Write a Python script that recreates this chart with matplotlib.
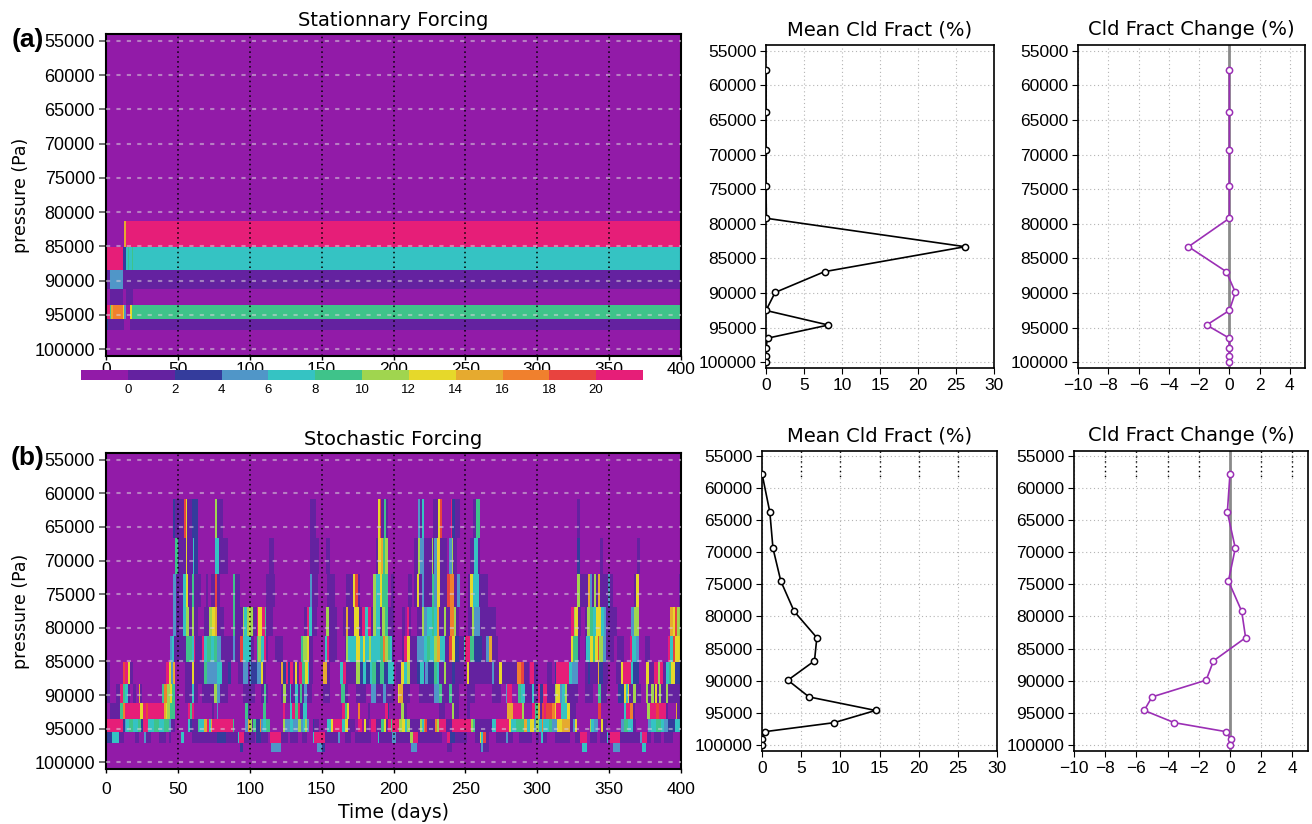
import numpy as np
import matplotlib
matplotlib.use("Agg")
import matplotlib.pyplot as plt
from matplotlib.colors import ListedColormap, BoundaryNorm
import matplotlib.cm as mcm

plt.rcParams['font.family'] = ['Liberation Sans', 'DejaVu Sans']

# ---------------- data ----------------
levels = [57800, 63800, 69400, 74500, 79200, 83300, 86900, 89900, 92500,
          94600, 96500, 97900, 99100, 100000]
time_ticks = list(range(0, 401, 50))
p_ticks = list(range(55000, 100001, 5000))
cbar_ticks = list(range(0, 21, 2))
mean_ticks = list(range(0, 31, 5))
change_ticks = list(range(-10, 5, 2))

# colour classes: . <0, d 0-2, b 2-4, l 4-6, c 6-8, g 8-10, G 10-12,
# y 12-14, o 14-16, O 16-18, r 18-20, p >20
class_codes = ".dblcgGyoOrp"
class_colors = ["#921ba8", "#6422a0", "#343c9c", "#5096c8", "#35c3c3",
                "#3fc38a", "#a0d54f", "#e6d82a", "#e6aa2f", "#f0802d",
                "#e8433f", "#e61e78"]

# profiles
mean_a = [0, 0, 0, 0, 0.05, 26.2, 7.7, 1.2, 0.0, 8.2, 0.2, 0, 0, 0]
change_a = [0, 0, 0, 0, 0, -2.7, -0.2, 0.4, 0, -1.5, 0, 0, 0, 0]
mean_b = [0.0, 1.0, 1.4, 2.4, 4.1, 7.0, 6.7, 3.3, 6.0, 14.5, 9.2, 0.35, 0.05, 0]
change_b = [0, -0.17, 0.34, -0.1, 0.75, 1.0, -1.06, -1.53, -5.0, -5.5, -3.57,
            -0.25, 0.05, 0]

# stationary forcing (segments: start day, end day, class)
stat_83300 = [(12.5, 13.9, 'o'), (13.9, 400, 'p')]
stat_86900 = [(0.5, 11.8, 'p'), (11.8, 13.9, 'b'), (13.9, 15.3, 'c'), (15.3, 15.8, 'g'),
              (15.8, 18.1, 'c'), (18.1, 18.6, 'g'), (18.6, 400, 'c')]
stat_89900 = [(0, 2.8, 'd'), (2.8, 11.8, 'l'), (11.8, 400, 'd')]
stat_92500 = [(2.8, 11.8, 'd'), (13.9, 18.8, 'd')]
stat_94600 = [(0, 2.8, 'p'), (2.8, 3.5, 'g'), (3.5, 5.0, 'o'), (5.0, 11.8, 'O'),
              (11.8, 12.5, 'y'), (12.5, 13.9, 'l'), (16.7, 18.1, 'y'), (18.1, 400, 'g')]
stat_96500 = [(0, 1.4, 'b'), (1.4, 12.5, 'd'), (16.7, 400, 'd')]

# stochastic forcing
sto_63800 = [(46.6, 48.0, 'b'), (48.0, 54.7, 'd'), (54.7, 55.7, 'r'), (55.7, 56.6, 'y'),
             (56.6, 60.1, 'd'), (60.1, 64.0, 'b'), (75.9, 77.5, 'G'), (77.5, 81.4, 'd'),
             (141.9, 146.1, 'd'), (189.3, 190.4, 'y'), (190.4, 191.6, 'r'), (191.6, 193.4, 'd'),
             (193.4, 194.4, 'g'), (194.4, 196.2, 'd'),
             (217.1, 218.4, 'l'), (218.4, 219.8, 'd'), (219.8, 221.2, 'c'), (227.7, 231.0, 'd'),
             (231.0, 231.9, 'y'), (231.9, 233.3, 'r'), (233.3, 234.2, 'd'), (240.0, 241.2, 'p'),
             (241.2, 243.0, 'b'), (243.0, 246.1, 'd'), (255.6, 257.4, 'd'), (257.4, 259.8, 'g'),
             (327.7, 329.8, 'd')]
sto_69400 = [(48, 50, 'g'), (50, 55.4, 'd'), (55.4, 56.6, 'y'), (56.6, 60.5, 'd'),
             (60.5, 61.7, 'c'), (61.7, 64, 'b'), (75.9, 78.6, 'c'), (78.6, 84.9, 'd'),
             (113.4, 116.9, 'd'), (141.9, 148.0, 'd'), (153.1, 155.9, 'd'), (187.9, 189.7, 'd'),
             (189.7, 191.1, 'y'), (191.1, 192.8, 'o'), (192.8, 193.9, 'g'), (193.9, 195.8, 'G'),
             (214.5, 217.1, 'd'), (217.1, 218.4, 'G'), (218.4, 221.7, 'l'), (221.7, 226.3, 'd'),
             (226.3, 227.3, 'G'), (227.3, 228.7, 'd'), (228.7, 230.5, 'l'), (230.5, 231.9, 'y'),
             (231.9, 237.2, 'd'), (238.4, 240.3, 'l'), (240.3, 241.7, 'G'), (241.7, 244.2, 'd'),
             (253.3, 256.0, 'd'), (256.0, 258.4, 'c'), (258.4, 259.8, 'd'),
             (327.7, 330.0, 'b'), (343.7, 345.5, 'd'), (369.4, 371.3, 'd')]
sto_74500 = [(46.6, 48.5, 'l'), (48.5, 53.6, 'd'), (53.6, 55.4, 'c'), (55.4, 57.1, 'y'),
             (57.1, 60.1, 'd'), (60.1, 61.7, 'g'), (61.7, 65.9, 'd'), (69.4, 71.0, 'd'),
             (72.8, 75.9, 'd'), (75.9, 77.5, 'r'), (77.5, 79.1, 'd'), (87.9, 90.2, 'g'),
             (90.2, 93.0, 'd'),
             (111.5, 117.3, 'd'), (141.9, 143.3, 'l'), (143.3, 147.5, 'd'), (154.0, 159.6, 'd'),
             (167.2, 171.9, 'd'), (171.9, 173.5, 'y'), (173.5, 175.3, 'r'), (175.3, 176.5, 'd'),
             (185.8, 188.1, 'G'), (188.1, 190.4, 'c'), (190.4, 192.1, 'y'), (192.1, 195.8, 'g'),
             (198.1, 200.4, 'd'),
             (210.1, 212.9, 'd'), (214.7, 216.4, 'd'), (216.4, 217.5, 'y'), (217.5, 219.4, 'd'),
             (219.4, 221.0, 'l'), (221.0, 226.3, 'd'), (226.3, 227.9, 'g'), (227.9, 230.3, 'l'),
             (230.3, 231.9, 'y'), (231.9, 237.2, 'd'), (237.2, 239.6, 'r'), (239.6, 241.9, 'O'),
             (241.9, 244.2, 'd'), (244.2, 246.1, 'l'), (251.4, 253.7, 'd'), (253.7, 255.6, 'y'),
             (255.6, 259.3, 'c'), (259.3, 265.8, 'd'),
             (327.7, 329.3, 'G'), (329.3, 335.1, 'd'), (335.1, 336.3, 'o'), (336.3, 338.1, 'l'),
             (338.1, 339.7, 'd'), (339.7, 340.9, 'G'), (340.9, 342.1, 'd'), (342.1, 343.7, 'o'),
             (343.7, 349.0, 'd'), (349.0, 350.6, 'l'), (350.6, 352.9, 'd'), (366.9, 368.7, 'd'),
             (368.7, 371.1, 'y'), (398.4, 400, 'd')]
sto_79200 = [(46.6, 48.5, 'l'), (48.5, 53.6, 'd'), (53.6, 55.4, 'c'), (55.4, 57.8, 'G'),
             (57.8, 60.1, 'd'), (60.1, 61.7, 'G'), (61.7, 64, 'd'), (68.2, 71.7, 'd'),
             (71.7, 73.3, 'G'), (73.3, 75.6, 'y'), (75.6, 77.5, 'o'), (77.5, 82.1, 'd'),
             (87.9, 90.2, 'g'), (90.2, 94.9, 'd'), (94.9, 96.0, 'G'), (96.0, 97.9, 'c'),
             (97.9, 99.5, 'G'), (99.5, 100.6, 'y'),
             (100.6, 102.7, 'G'), (102.7, 105.0, 'd'), (105.0, 106.2, 'p'), (106.2, 108.5, 'y'),
             (108.5, 110.4, 'p'), (110.4, 111.5, 'g'), (111.5, 116.2, 'd'), (137.8, 140.1, 'd'),
             (140.1, 141.7, 'p'), (141.7, 143.3, 'c'), (143.3, 146.6, 'd'), (153.1, 154.9, 'G'),
             (154.9, 160.3, 'd'), (164.9, 167.2, 'd'), (167.2, 168.4, 'o'), (168.4, 172.6, 'd'),
             (172.6, 175.8, 'y'), (175.8, 178.1, 'd'), (178.1, 180.4, 'p'), (180.4, 182.3, 'c'),
             (182.3, 184.2, 'p'), (184.2, 185.8, 'd'), (185.8, 188.1, 'G'), (188.1, 190.4, 'c'),
             (190.4, 192.1, 'd'), (192.1, 193.9, 'G'), (193.9, 196.2, 'g'), (196.2, 200.4, 'd'),
             (206.0, 208.2, 'd'), (209.4, 210.6, 'p'), (210.6, 212.4, 'd'), (216.4, 219.4, 'd'),
             (219.4, 221.0, 'G'), (221.0, 223.3, 'l'), (223.3, 226.3, 'c'), (226.3, 227.9, 'g'),
             (227.9, 230.3, 'c'), (230.3, 231.4, 'o'), (231.4, 235.0, 'd'), (235.0, 236.6, 'G'),
             (236.6, 238.9, 'd'), (238.9, 241.9, 'O'), (241.9, 243.5, 'G'), (243.5, 245.4, 'd'),
             (251.4, 254.6, 'd'), (254.6, 256.0, 'G'), (256.0, 259.8, 'l'), (259.8, 270.9, 'd'),
             (323.5, 325.3, 'p'), (325.3, 326.5, 'G'), (326.5, 328.1, 'y'), (328.1, 330.4, 'd'),
             (332.8, 334.4, 'd'), (334.4, 336.3, 'G'), (336.3, 338.6, 'g'), (338.6, 340.9, 'c'),
             (340.9, 344.4, 'y'), (344.4, 346.7, 'c'), (346.7, 347.9, 'l'), (347.9, 355.5, 'd'),
             (365.3, 366.9, 'l'), (366.9, 370.6, 'G'), (392.4, 394.3, 'o'), (394.3, 395.4, 'y'),
             (395.4, 397.7, 'r'), (397.7, 400, 'G')]
sto_83300 = [(44.5, 45.9, 'l'), (45.9, 46.9, 'c'), (46.9, 55.4, 'd'), (55.4, 59.4, 'g'),
             (59.4, 60.8, 'c'), (60.8, 62.0, 'p'), (62.0, 67.0, 'd'), (67.0, 68.2, 'p'),
             (68.2, 70.5, 'c'), (70.5, 72.8, 'g'), (72.8, 75.2, 'c'), (75.2, 77.5, 'g'),
             (77.5, 79.8, 'l'), (79.8, 87.9, 'd'), (87.9, 90.2, 'l'), (90.2, 93.7, 'd'),
             (93.7, 95.1, 'r'), (95.1, 100.0, 'c'),
             (100.0, 101.1, 'c'), (101.1, 103.0, 'd'), (105.0, 106.2, 'g'), (106.2, 107.6, 'G'),
             (107.6, 109.9, 'c'), (109.9, 111.5, 'p'), (111.5, 112.7, 'd'), (117.3, 123.1, 'd'),
             (135.4, 137.1, 'g'), (137.1, 139.4, 'G'), (139.4, 141.7, 'y'), (141.7, 144.0, 'd'),
             (152.1, 154.0, 'c'), (154.0, 154.9, 'p'), (154.9, 160.5, 'd'), (166.1, 167.2, 'd'),
             (167.2, 168.4, 'G'), (168.4, 174.2, 'c'), (174.2, 176.5, 'y'), (176.5, 178.8, 'c'),
             (178.8, 180.4, 'y'), (180.4, 182.8, 'c'), (182.8, 184.6, 'G'), (184.6, 190.4, 'c'),
             (190.4, 192.8, 'g'), (192.8, 193.9, 'O'), (193.9, 195.8, 'G'), (195.8, 197.4, 'g'),
             (197.4, 199.0, 'c'), (199.0, 200.4, 'd'),
             (206.0, 207.1, 'd'), (207.1, 209.4, 'p'), (209.4, 211.7, 'y'), (211.7, 216.4, 'd'),
             (216.4, 221.0, 'l'), (221.0, 223.3, 'c'), (223.3, 225.6, 'g'), (225.6, 227.9, 'c'),
             (227.9, 230.3, 'G'), (230.3, 232.6, 'o'), (232.6, 235.6, 'c'), (235.6, 238.4, 'd'),
             (238.4, 240.7, 'r'), (240.7, 242.4, 'y'), (242.4, 245.4, 'b'), (245.4, 248.8, 'd'),
             (248.8, 250.0, 'c'), (250.0, 252.8, 'p'), (252.8, 255.8, 'g'), (255.8, 261.6, 'b'),
             (261.6, 263.9, 'd'), (263.9, 266.7, 'l'), (266.7, 268.6, 'o'), (268.6, 273.2, 'd'),
             (323.5, 325.1, 'y'), (325.1, 328.1, 'g'), (328.1, 330.0, 'd'), (332.8, 333.9, 'd'),
             (333.9, 336.3, 'c'), (336.3, 338.6, 'y'), (338.6, 340.4, 'g'), (340.4, 342.1, 'y'),
             (342.1, 343.2, 'r'), (343.2, 345.5, 'G'), (345.5, 347.9, 'l'), (347.9, 353.7, 'd'),
             (355.5, 359.9, 'd'), (364.6, 365.9, 'p'), (365.9, 368.7, 'c'), (368.7, 371.1, 'l'),
             (375.2, 378.5, 'd'), (390.8, 392.6, 'p'), (392.6, 394.3, 'c'), (394.3, 396.1, 'r'),
             (396.1, 400, 'y')]
sto_86900 = [(0.9, 2.5, 'd'), (11.8, 13.0, 'r'), (13.0, 14.8, 'p'), (14.8, 16.5, 'y'),
             (16.5, 18.8, 'd'), (41.8, 43.8, 'p'), (43.8, 45.0, 'y'), (45.0, 46.6, 'l'),
             (46.6, 47.8, 'o'), (55.2, 59.4, 'd'), (59.4, 61.2, 'y'), (61.2, 68.2, 'd'),
             (68.2, 70.1, 'g'), (70.1, 77.5, 'l'), (77.5, 80.3, 'c'), (80.3, 84.9, 'd'),
             (84.9, 86.8, 'b'), (91.4, 94.9, 'd'), (94.9, 98.4, 'l'), (98.4, 100.0, 'd'),
             (100.0, 101.1, 'l'), (101.1, 105.0, 'b'), (105.0, 108.1, 'l'), (108.1, 109.2, 'y'),
             (109.2, 111.5, 'd'), (120.8, 122.0, 'd'), (122.0, 123.1, 'o'), (123.1, 124.8, 'b'),
             (124.8, 126.6, 'p'), (126.6, 128.2, 'b'), (128.2, 130.1, 'p'), (130.1, 131.3, 'd'),
             (131.3, 133.1, 'y'), (133.1, 134.7, 'd'), (134.7, 136.4, 'p'), (136.4, 138.7, 'g'),
             (138.7, 140.5, 'y'), (140.5, 141.7, 'c'), (141.7, 144.0, 'd'), (151.0, 153.3, 'o'),
             (153.3, 155.6, 'd'), (162.6, 164.9, 'c'), (164.9, 167.2, 'p'), (167.2, 174.2, 'd'),
             (174.2, 176.5, 'G'), (176.5, 178.8, 'b'), (178.8, 181.1, 'c'), (181.1, 183.5, 'b'),
             (183.5, 185.1, 'c'), (185.1, 187.4, 'g'), (187.4, 190.4, 'b'), (190.4, 193.4, 'g'),
             (193.4, 196.2, 'b'), (196.2, 200.4, 'c'),
             (201.3, 204.8, 'd'), (204.8, 207.1, 'y'), (207.1, 209.4, 'c'), (209.4, 211.7, 'G'),
             (211.7, 216.4, 'd'), (216.4, 218.7, 'b'), (218.7, 221.0, 'c'), (221.0, 222.2, 'd'),
             (222.2, 224.0, 'l'), (224.0, 227.9, 'b'), (227.9, 230.3, 'g'), (230.3, 231.4, 'c'),
             (231.4, 235.0, 'd'), (235.0, 236.6, 'G'), (236.6, 240.7, 'd'), (240.7, 243.0, 'b'),
             (243.0, 248.8, 'd'), (251.2, 252.3, 'y'), (252.3, 268.6, 'd'), (268.6, 270.2, 'l'),
             (270.2, 273.7, 'd'), (273.7, 275.5, 'y'), (275.5, 286.0, 'd'), (286.0, 289.0, 'O'),
             (289.0, 290.6, 'r'), (290.6, 294.1, 'd'), (295.2, 297.6, 'p'), (297.6, 300.6, 'd'),
             (306.5, 310.3, 'd'), (311.9, 313.0, 'b'), (313.0, 321.9, 'p'), (321.9, 324.6, 'c'),
             (324.6, 328.1, 'l'), (333.5, 335.1, 'd'), (335.1, 336.3, 'b'), (336.3, 342.1, 'd'),
             (342.1, 343.2, 'o'), (343.2, 345.5, 'b'), (345.5, 349.0, 'd'), (354.8, 358.3, 'd'),
             (358.3, 359.5, 'y'), (359.5, 365.3, 'p'), (365.3, 366.4, 'c'), (366.4, 371.1, 'b'),
             (375.7, 378.0, 'y'), (378.0, 381.5, 'd'), (381.5, 383.8, 'p'), (383.8, 385.4, 'G'),
             (385.4, 387.3, 'p'), (387.3, 389.6, 'd'), (389.6, 391.5, 'c'), (391.5, 393.1, 'g'),
             (393.1, 395.4, 'y'), (395.4, 400, 'b')]
sto_89900 = [(0.9, 2.5, 'd'), (7.2, 9.7, 'd'), (9.7, 11.8, 'p'), (11.8, 13.0, 'g'),
             (13.0, 14.8, 'c'), (14.8, 17.2, 'd'), (18.9, 21.2, 'd'), (23.0, 23.7, 'o'),
             (23.7, 24.8, 'd'), (39.2, 40.4, 'g'), (40.4, 42.7, 'O'), (42.7, 44.5, 'G'),
             (44.5, 46.2, 'y'), (46.2, 47.8, 'g'), (55.2, 59.4, 'd'), (59.4, 60.8, 'c'),
             (60.8, 64.0, 'd'), (67.0, 75.2, 'd'), (75.2, 77.5, 'G'), (77.5, 79.3, 'l'),
             (79.3, 84.9, 'd'), (95.3, 103.4, 'd'),
             (108.1, 109.9, 'd'), (109.9, 111.5, 'g'), (111.5, 112.7, 'd'), (121.3, 123.1, 'd'),
             (123.1, 124.8, 'G'), (124.8, 127.8, 'd'), (127.8, 128.9, 'c'), (128.9, 131.3, 'd'),
             (131.3, 133.6, 'c'), (133.6, 135.2, 'd'), (135.2, 136.4, 'g'), (136.4, 137.8, 'd'),
             (137.8, 139.4, 'l'), (139.4, 142.9, 'd'), (151.0, 155.6, 'd'), (163.7, 166.1, 'g'),
             (166.1, 168.4, 'd'), (174.2, 181.1, 'd'), (184.6, 187.4, 'l'), (187.4, 192.8, 'd'),
             (192.8, 195.1, 'l'), (195.1, 200.4, 'd'),
             (203.1, 204.1, 'y'), (204.1, 206.4, 'o'), (206.4, 211.7, 'd'), (217.5, 227.9, 'd'),
             (227.9, 231.4, 'l'), (231.4, 233.3, 'g'), (233.3, 238.4, 'd'), (238.4, 240.3, 'g'),
             (240.3, 245.4, 'd'), (251.2, 257.0, 'd'), (268.6, 274.4, 'd'), (277.8, 279.0, 'l'),
             (279.0, 282.5, 'p'), (286.7, 289.0, 'g'), (289.0, 291.3, 'c'), (291.3, 296.4, 'd'),
             (296.4, 297.6, 'c'), (297.6, 300.3, 'd'),
             (300.3, 301.9, 'p'), (301.9, 304.2, 'b'), (304.2, 306.5, 'p'), (306.5, 311.9, 'd'),
             (311.9, 313.0, 'G'), (313.0, 315.4, 'y'), (315.4, 317.7, 'l'), (317.7, 319.5, 'c'),
             (319.5, 321.2, 'G'), (321.2, 328.1, 'd'), (333.5, 339.0, 'd'), (342.1, 344.4, 'g'),
             (344.4, 348.3, 'd'), (356.7, 359.9, 'b'), (359.9, 361.3, 'y'), (361.3, 362.9, 'c'),
             (362.9, 364.1, 'y'), (364.1, 366.4, 'd'), (366.4, 368.3, 'G'), (368.3, 372.2, 'd'),
             (375.7, 376.9, 'G'), (376.9, 379.2, 'd'), (379.2, 380.8, 'G'), (380.8, 382.2, 'd'),
             (382.2, 383.1, 'y'), (383.1, 384.5, 'd'), (384.5, 386.1, 'G'), (386.1, 389.6, 'd'),
             (389.6, 390.8, 'G'), (390.8, 400, 'd')]
sto_92500 = [(3.2, 9.5, 'd'), (9.5, 11.4, 'g'), (11.4, 13.0, 'O'), (13.0, 23.7, 'p'),
             (23.7, 25.3, 'y'), (25.3, 27.6, 'p'), (27.6, 28.8, 'r'), (28.8, 39.9, 'p'),
             (39.9, 41.5, 'o'), (41.5, 42.7, 'y'), (42.7, 44.3, 'G'), (44.3, 47.8, 'g'),
             (57.1, 58.5, 'p'), (58.5, 59.4, 'g'), (59.4, 60.8, 'p'), (74.0, 75.2, 'd'),
             (77.0, 78.2, 'l'), (97.2, 98.8, 'g'), (98.8, 100.0, 'd'),
             (109.2, 111.5, 'g'), (123.1, 124.3, 'p'), (128.2, 129.4, 'c'), (129.4, 131.3, 'p'),
             (131.3, 133.6, 'g'), (133.6, 135.2, 'p'), (135.2, 137.1, 'd'), (137.1, 140.1, 'c'),
             (164.2, 166.1, 'p'), (166.1, 167.5, 'g'), (167.5, 168.9, 'y'), (174.9, 176.3, 'O'),
             (182.3, 183.7, 'd'), (193.9, 195.8, 'p'), (195.8, 197.2, 'b'),
             (204.8, 207.5, 'G'), (207.5, 209.4, 'd'), (231.4, 235.6, 'd'), (240.3, 241.9, 'G'),
             (241.9, 245.4, 'd'), (251.2, 253.5, 'd'), (279.0, 283.0, 'o'), (283.0, 289.4, 'p'),
             (289.4, 290.6, 'G'), (296.4, 298.3, 'p'), (298.3, 300.3, 'g'),
             (300.3, 301.9, 'o'), (301.9, 303.3, 'd'), (303.3, 304.7, 'r'), (304.7, 306.1, 'p'),
             (306.1, 310.3, 'r'), (310.3, 311.9, 'O'), (311.9, 313.0, 'y'), (313.0, 316.5, 'p'),
             (316.5, 321.2, 'c'), (321.2, 322.3, 'y'), (322.3, 327.0, 'd'), (342.1, 344.4, 'r'),
             (359.9, 361.3, 'c'), (361.3, 364.6, 'p'), (364.6, 366.4, 'O'), (366.4, 367.8, 'd'),
             (376.2, 378.5, 'G'), (378.5, 382.7, 'p'), (382.7, 384.5, 'r'), (384.5, 389.6, 'p'),
             (389.6, 390.8, 'd'), (396.6, 397.7, 'o'), (397.7, 400, 'd')]
sto_94600 = [(0.5, 11.8, 'p'), (11.8, 13.0, 'b'), (13.0, 14.1, 'l'), (14.1, 16.0, 'c'),
             (16.0, 18.3, 'g'), (18.3, 21.8, 'c'), (21.8, 24.1, 'g'), (24.1, 25.7, 'b'),
             (25.7, 28.8, 'p'), (28.8, 33.4, 'c'), (33.4, 36.9, 'g'), (36.9, 40.4, 'c'),
             (40.4, 43.8, 'g'), (43.8, 45.5, 'l'), (45.5, 47.8, 'd'), (57.1, 58.5, 'c'),
             (58.5, 60.1, 'b'), (60.1, 64.0, 'd'), (64.0, 64.7, 'g'), (64.7, 68.2, 'c'),
             (68.2, 69.8, 'o'), (69.8, 71.7, 'p'), (71.7, 72.8, 'c'), (72.8, 74.0, 'o'),
             (74.0, 87.9, 'p'), (87.9, 89.1, 'g'), (97.2, 98.8, 'l'), (98.8, 99.9, 'o'),
             (99.9, 101.6, 'G'), (101.6, 102.7, 'd'), (102.7, 103.9, 'g'), (103.9, 106.9, 'b'),
             (106.9, 108.1, 'O'), (108.1, 109.2, 'l'), (109.2, 111.5, 'c'), (111.5, 113.9, 'g'),
             (123.1, 124.3, 'G'), (124.3, 127.8, 'l'), (127.8, 130.1, 'c'), (130.1, 133.6, 'l'),
             (133.6, 135.4, 'G'), (135.4, 137.1, 'l'), (137.1, 138.7, 'c'), (138.7, 140.1, 'G'),
             (140.1, 141.7, 'l'), (144.0, 145.2, 'b'), (145.2, 148.7, 'd'), (154.0, 156.3, 'c'),
             (156.3, 158.0, 'y'), (158.0, 164.2, 'p'), (164.2, 166.5, 'c'), (166.5, 168.4, 'y'),
             (168.4, 173.0, 'd'), (175.3, 178.1, 'p'), (179.5, 181.1, 'y'), (181.1, 182.8, 'd'),
             (184.2, 187.4, 'p'), (187.4, 191.6, 'd'), (191.6, 193.4, 'g'), (193.4, 195.1, 'y'),
             (195.1, 196.2, 'd'), (196.2, 198.1, 'p'), (198.1, 199.0, 'g'),
             (199.0, 204.1, 'p'), (204.1, 206.0, 'G'), (206.0, 207.8, 'y'), (207.8, 209.4, 'c'),
             (209.4, 211.7, 'G'), (211.7, 218.7, 'd'), (218.7, 219.8, 'G'), (219.8, 221.0, 'c'),
             (221.0, 222.2, 'O'), (222.2, 223.3, 'r'), (223.3, 229.1, 'd'), (229.1, 230.3, 'O'),
             (230.3, 231.4, 'G'), (231.4, 236.6, 'p'), (236.6, 240.3, 'd'), (240.3, 241.2, 'g'),
             (241.2, 254.2, 'p'), (254.2, 255.3, 'G'), (255.3, 256.5, 'g'), (256.5, 268.6, 'd'),
             (268.6, 270.9, 'c'), (270.9, 280.2, 'p'), (280.2, 282.0, 'y'), (282.0, 285.3, 'c'),
             (285.3, 290.6, 'g'), (290.6, 292.9, 'o'), (292.9, 295.2, 'c'), (295.2, 297.6, 'y'),
             (297.6, 299.1, 'l'),
             (299.1, 301.4, 'G'), (301.4, 303.3, 'c'), (303.3, 304.2, 'O'), (304.2, 308.4, 'c'),
             (308.4, 310.7, 'g'), (310.7, 314.2, 'l'), (314.2, 317.7, 'y'), (317.7, 322.3, 'o'),
             (322.3, 325.1, 'd'), (325.1, 326.5, 'l'), (326.5, 327.4, 'y'), (336.3, 337.4, 'G'),
             (337.4, 339.7, 'c'), (339.7, 342.1, 'l'), (344.4, 345.5, 'y'), (345.5, 348.3, 'd'),
             (358.3, 359.9, 'l'), (359.9, 362.9, 'g'), (362.9, 366.4, 'c'), (366.4, 368.7, 'd'),
             (376.9, 379.2, 'l'), (379.2, 382.7, 'c'), (382.7, 386.1, 'g'), (386.1, 388.5, 'c'),
             (388.5, 390.8, 'l'), (390.8, 395.4, 'b'), (395.4, 400, 'c')]
sto_96500 = [(0.5, 4.4, 'b'), (4.4, 9.0, 'c'), (9.0, 12.5, 'd'), (20.6, 23.0, 'd'),
             (26.4, 27.6, 'l'), (27.6, 31.5, 'd'), (36.9, 41.5, 'd'), (43.8, 45.0, 'd'),
             (52.6, 54.3, 'c'), (59.6, 77.5, 'd'), (77.5, 83.3, 'b'), (83.3, 91.4, 'd'),
             (91.4, 92.3, 'c'), (92.3, 96.0, 'p'), (96.0, 103.4, 'd'),
             (104.6, 108.1, 'b'), (108.1, 112.7, 'd'), (113.9, 122.0, 'p'), (122.0, 126.6, 'd'),
             (127.8, 133.6, 'd'), (135.9, 139.4, 'd'), (144.0, 145.2, 'c'), (145.2, 152.6, 'p'),
             (152.6, 161.4, 'd'), (161.4, 162.6, 'l'), (166.1, 170.7, 'd'), (173.0, 184.6, 'd'),
             (189.3, 190.0, 'c'), (190.0, 199.0, 'd'),
             (199.0, 201.3, 'l'), (201.3, 211.7, 'd'), (211.7, 213.6, 'G'), (213.6, 217.1, 'p'),
             (217.1, 233.8, 'd'), (237.2, 239.6, 'p'), (239.6, 243.0, 'b'), (243.0, 251.2, 'd'),
             (256.5, 259.8, 'd'), (259.8, 261.1, 'y'), (261.1, 262.1, 'c'), (262.1, 264.4, 'r'),
             (264.4, 266.3, 'd'), (271.4, 277.8, 'd'), (277.8, 279.7, 'l'), (279.7, 283.0, 'd'),
             (287.1, 296.4, 'd'),
             (299.1, 301.0, 'd'), (302.6, 303.8, 'c'), (303.8, 307.2, 'd'), (311.9, 313.5, 'd'),
             (314.2, 322.3, 'd'), (326.5, 329.3, 'd'), (329.8, 334.4, 'p'), (336.3, 341.4, 'd'),
             (343.7, 348.3, 'd'), (348.3, 349.2, 'c'), (350.6, 357.6, 'p'), (357.6, 371.5, 'd'),
             (371.5, 372.9, 'l'), (372.9, 376.2, 'p'), (376.2, 379.2, 'd'), (381.5, 386.1, 'd'),
             (388.5, 394.3, 'd')]
sto_97900 = [(93.0, 95.6, 'b'), (114.3, 121.3, 'l'), (146.3, 150.3, 'l'), (150.3, 152.1, 'b'),
             (212.4, 216.4, 'l'), (237.2, 240.3, 'd'), (259.8, 261.1, 'd'), (261.1, 262.1, 'l'),
             (262.1, 266.3, 'd'), (331.1, 334.4, 'c'), (352.9, 357.6, 'l'), (372.9, 375.7, 'c')]

stationary_rows = [(83300, stat_83300), (86900, stat_86900), (89900, stat_89900),
                   (92500, stat_92500), (94600, stat_94600), (96500, stat_96500)]
stochastic_rows = [(63800, sto_63800), (69400, sto_69400), (74500, sto_74500),
                   (79200, sto_79200), (83300, sto_83300), (86900, sto_86900),
                   (89900, sto_89900), (92500, sto_92500), (94600, sto_94600),
                   (96500, sto_96500), (97900, sto_97900)]

# ---------------- helpers ----------------
cmap = ListedColormap(class_colors)
bounds = [-2] + cbar_ticks + [22]
norm = BoundaryNorm(bounds, cmap.N)

lv = np.array(levels, float)
p_edges = np.concatenate([[54000], (lv[:-1] + lv[1:]) / 2, [101000]])

title_font = ['DejaVu Sans']


def build_grid(rows):
    res = 0.5
    t_edges = np.arange(0, 400 + res, res)
    grid = np.full((len(levels), t_edges.size - 1), -1.0)
    for lev, segs in rows:
        i = levels.index(lev)
        for s, e, c in segs:
            a, b = int(round(s / res)), int(round(e / res))
            grid[i, a:b] = 2 * class_codes.index(c) - 1
    return t_edges, grid


def heatmap(ax, rows, title, xlab_pad):
    t_edges, grid = build_grid(rows)
    ax.pcolormesh(t_edges, p_edges, grid, cmap=cmap, norm=norm,
                  edgecolors='none', antialiased=False)
    ax.set_xlim(0, 400)
    ax.set_ylim(101000, 54000)
    for t in time_ticks[1:-1]:
        ax.axvline(t, color='k', lw=1.1, ls=(0, (1, 2.2)), zorder=3)
    for p in p_ticks:
        ax.axhline(p, color='#d8d0dc', alpha=0.55, lw=1.5, ls=(0, (2, 3)), zorder=3)
    ax.set_xticks(time_ticks)
    ax.set_yticks(p_ticks)
    ax.tick_params(axis='y', direction='out', length=5, width=1.2, color='#555555',
                   labelsize=13, pad=3)
    ax.tick_params(axis='x', direction='out', length=3, width=1.0, labelsize=12.5,
                   pad=xlab_pad)
    for s in ax.spines.values():
        s.set_linewidth(1.5)
    ax.set_ylabel('pressure (Pa)', fontsize=12.5, family=title_font, labelpad=3)
    ax.set_title(title, fontsize=14, family=title_font, pad=6)


def profile(ax, vals, color, xlim, xticks, ylim, title, zero_line=False, artifacts=None):
    ax.set_facecolor('white')
    if zero_line:
        ax.axvline(0, color='#8a8a8a', lw=2, zorder=1)
    ax.plot(vals, levels, color=color, lw=1.2, marker='o', ms=4.5, mfc='white',
            mec=color, mew=1.1, zorder=3)
    ax.set_xlim(*xlim)
    ax.set_ylim(*ylim)
    ax.set_xticks(xticks)
    ax.set_yticks(p_ticks)
    ax.grid(True, color='#b4b4b4', ls=(0, (1, 2.5)), lw=0.8)
    ax.set_axisbelow(True)
    if artifacts is not None:
        ax.vlines(artifacts, ylim[1], 58800, color='k', lw=1.0, linestyles=(0, (1, 2.5)),
                  zorder=2)
    ax.tick_params(direction='out', length=4, labelsize=12.5, pad=3)
    for s in ax.spines.values():
        s.set_linewidth(1.2)
    ax.set_title(title, fontsize=14, family=title_font, pad=7)


# ---------------- figure ----------------
W, H = 1312, 824
fig = plt.figure(figsize=(W / 100, H / 100), dpi=100)


def box(x0, y0, x1, y1):
    return [x0 / W, 1 - y1 / H, (x1 - x0) / W, (y1 - y0) / H]


ax_a = fig.add_axes(box(106, 34, 681, 356))
heatmap(ax_a, stationary_rows, 'Stationnary Forcing', 1.0)

ax_b = fig.add_axes(box(106, 453, 681, 769))
heatmap(ax_b, stochastic_rows, 'Stochastic Forcing', 6)
ax_b.set_xlabel('Time (days)', fontsize=13.5, family=title_font, labelpad=5)

cax = fig.add_axes(box(81, 370, 643, 380))
sm = mcm.ScalarMappable(norm=norm, cmap=cmap)
cb = fig.colorbar(sm, cax=cax, orientation='horizontal', ticks=cbar_ticks,
                  spacing='uniform')
cb.outline.set_visible(False)
cb.minorticks_off()
cax.tick_params(which='both', length=0, labelsize=9.5, pad=3)

red_purple = '#9b2fb5'
ax_ma = fig.add_axes(box(766, 45, 994, 368))
profile(ax_ma, mean_a, 'black', (0, 30), mean_ticks, (100800, 54200), 'Mean Cld Fract (%)')
ax_ca = fig.add_axes(box(1078, 45, 1305, 368))
profile(ax_ca, change_a, red_purple, (-10, 5), change_ticks, (100800, 54200),
        'Cld Fract Change (%)', zero_line=True)

ax_mb = fig.add_axes(box(762, 451, 997, 751))
profile(ax_mb, mean_b, 'black', (0, 30), mean_ticks, (100900, 54300), 'Mean Cld Fract (%)',
        artifacts=mean_ticks[1:-1])
ax_cb = fig.add_axes(box(1074, 451, 1308, 751))
profile(ax_cb, change_b, red_purple, (-10, 5), change_ticks, (100900, 54300),
        'Cld Fract Change (%)', zero_line=True,
        artifacts=[t for t in change_ticks if t not in (-10, 0)])

fig.text(28 / W, 1 - 40 / H, '(a)', fontsize=19, fontweight='bold', ha='center', va='center')
fig.text(28 / W, 1 - 458 / H, '(b)', fontsize=19, fontweight='bold', ha='center', va='center')

fig.savefig('out.png', dpi=100)
